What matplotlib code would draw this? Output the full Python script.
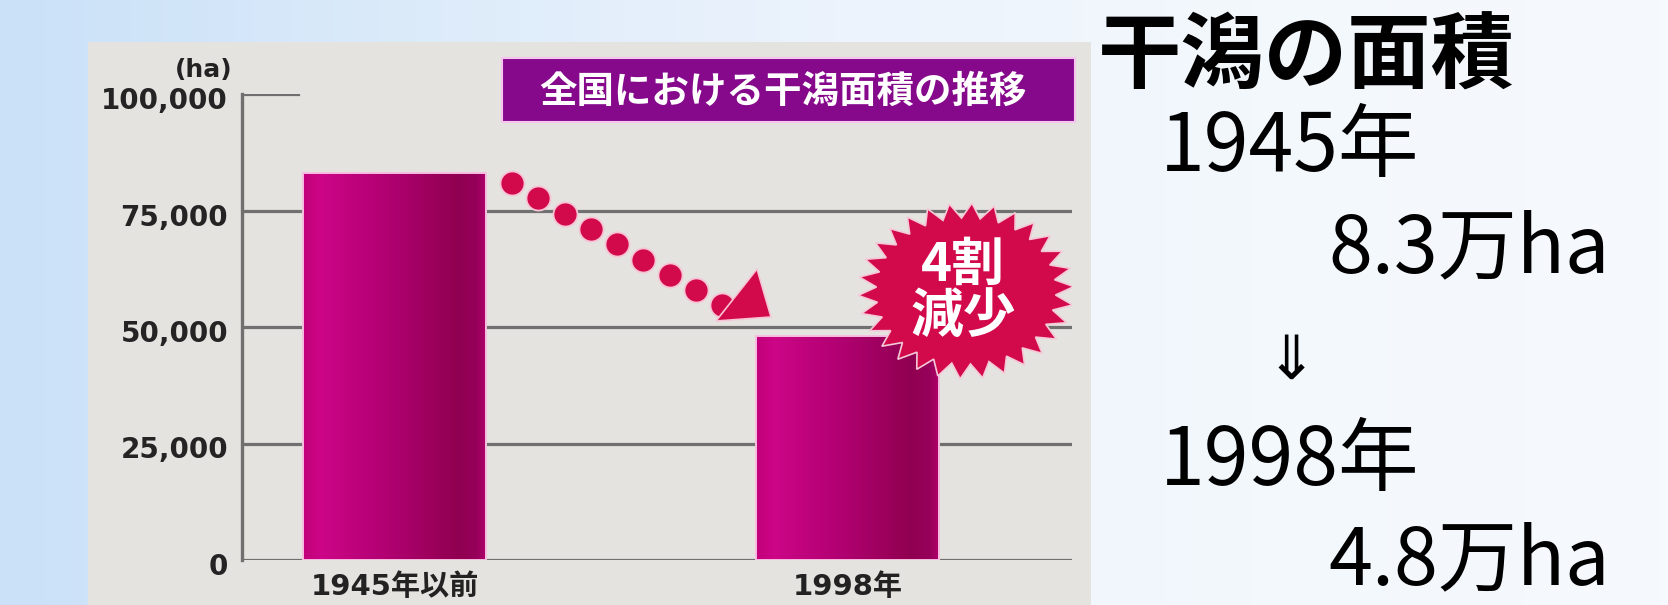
import numpy as np
import matplotlib.pyplot as plt
from matplotlib.colors import LinearSegmentedColormap
from matplotlib.patches import Rectangle, Polygon
from matplotlib.transforms import ScaledTranslation

# tidal flat area in Japan (ha)
periods = ['1945年以前', '1998年']
area_ha = [83000, 48000]
yticks = [0, 25000, 50000, 75000, 100000]
ytick_labels = ['0', '25,000', '50,000', '75,000', '100,000']
chart_title = '全国における干潟面積の推移'
badge_text = '4割\n減少'

summary_title = '干潟の面積'
summary_years = ['1945年', '1998年']
summary_values = ['8.3万ha', '4.8万ha']

JP = 'Noto Sans CJK JP'
W, H = 1668, 605

fig = plt.figure(figsize=(W / 100, H / 100), dpi=100)

# full-page axes in pixel units for the slide background and side text
bg = fig.add_axes([0, 0, 1, 1])
bg.set_xlim(0, W)
bg.set_ylim(H, 0)
bg.axis('off')

page = LinearSegmentedColormap.from_list(
    'page', ['#cae1f8', '#dcebfa', '#ecf3fc', '#f3f8fd', '#f6f9fe'])
bg.imshow(np.linspace(0, 1, 512)[None, :], cmap=page, extent=[0, W, H, 0],
          aspect='auto', zorder=0)

# grey chart panel and purple title box
bg.add_patch(Rectangle((88, 42), 1003, 580, fc='#e5e3df', ec='none', zorder=1))
bg.add_patch(Rectangle((502, 58), 573, 64, fc='#86098c', ec='#f4c6ee', lw=1.5, zorder=2))
bg.text(783, 91, chart_title, color='white', fontsize=27, weight='bold',
        family=JP, ha='center', va='center', zorder=3)
bg.text(233, 70, '(ha)', color='#222222', fontsize=18, weight='bold',
        family='DejaVu Sans', ha='right', va='center', zorder=3)

# summary text on the right
bg.text(1098, 58, summary_title, fontsize=60, weight='bold', family=JP,
        ha='left', va='center', color='black')
bg.text(1160, 148, summary_years[0], fontsize=58, family=JP, ha='left', va='center')
bg.text(1328, 250, summary_values[0], fontsize=57, family=JP, ha='left', va='center')
bg.text(1291, 362, '⇓', fontsize=44, family=[JP, 'DejaVu Sans'], ha='center', va='center')
bg.text(1160, 462, summary_years[1], fontsize=58, family=JP, ha='left', va='center')
bg.text(1328, 562, summary_values[1], fontsize=57, family=JP, ha='left', va='center')

# bar chart axes
ax_l, ax_r, ax_b, ax_t = 242, 1072, 560, 94
ax = fig.add_axes([ax_l / W, (H - ax_b) / H, (ax_r - ax_l) / W, (ax_b - ax_t) / H])
ax.patch.set_visible(False)

x = np.arange(len(periods))
unit = 453.0  # pixels between bar centres
x0 = 394.5
xlim = ((ax_l - x0) / unit, (ax_r - x0) / unit)
bar_w = 183 / unit

grid_c = '#707070'
for t in yticks[:-1]:
    ax.axhline(t, color=grid_c, lw=2.3, zorder=1)
ax.axhline(yticks[-1], xmin=0, xmax=0.068, color=grid_c, lw=2.3, zorder=1)

bars = ax.bar(x, area_ha, width=bar_w, color='none', edgecolor='#f6bfe0',
              lw=1.4, zorder=3)
bar_cmap = LinearSegmentedColormap.from_list(
    'bar', [(0, '#c2007a'), (0.1, '#cc0687'), (0.45, '#b20072'),
            (0.85, '#900050'), (0.95, '#96005a'), (1.0, '#b0006a')])
for b in bars:
    im = ax.imshow(np.linspace(0, 1, 256)[None, :], cmap=bar_cmap,
                   extent=[b.get_x(), b.get_x() + b.get_width(), 0, b.get_height()],
                   aspect='auto', zorder=2.5, interpolation='bilinear')
    im.set_clip_path(b)

ax.set_xlim(*xlim)
ax.set_ylim(0, 100000)

for side in ['top', 'right', 'bottom']:
    ax.spines[side].set_visible(False)
ax.spines['left'].set_color(grid_c)
ax.spines['left'].set_linewidth(2.4)

ax.set_yticks(yticks, ytick_labels)
ax.tick_params(axis='y', length=0, pad=10, labelsize=20, labelcolor='#242424')
for lab in ax.get_yticklabels():
    lab.set_fontweight('bold')
    lab.set_transform(lab.get_transform() + ScaledTranslation(0, -4 / 100, fig.dpi_scale_trans))

ax.set_xticks(x, periods)
ax.tick_params(axis='x', length=0, pad=9, labelsize=21, labelcolor='#222222')
for lab in ax.get_xticklabels():
    lab.set_family(['DejaVu Sans', JP])
    lab.set_fontweight('bold')

# dotted arrow running down from the first bar to the second
red = '#d20a4c'
y_px = (ax_b - ax_t) / 100000  # pixels per hectare
start = (bars[0].get_x() + bar_w + 26 / unit, area_ha[0] - 10 / y_px)
end = (bars[1].get_x() - 34 / unit, area_ha[1] + 31 / y_px)
dots_x = np.linspace(start[0], end[0], 9)
dots_y = np.linspace(start[1], end[1], 9)
ax.scatter(dots_x, dots_y, s=300, color=red, edgecolor='#f7c4d6', lw=1.3, zorder=4)
head = np.array([[716, 321], [757, 269], [771, 317]], dtype=float)
head_xy = np.column_stack([(head[:, 0] - x0) / unit, (ax_b - head[:, 1]) / y_px])
ax.add_patch(Polygon(head_xy, closed=True, fc=red, ec='#f7c4d6', lw=1.2, zorder=4))

# starburst badge beside the 1998 bar
n = 30
ang = np.linspace(0, 2 * np.pi, 2 * n, endpoint=False) + 0.05
r = np.where(np.arange(2 * n) % 2 == 0, 1.0, 0.83)
cx, cy = (966 - x0) / unit, (ax_b - 291) / y_px
rx, ry = 108 / unit, 88 / y_px
star = np.column_stack([cx + rx * r * np.cos(ang), cy + ry * r * np.sin(ang)])
ax.add_patch(Polygon(star, closed=True, fc=red, ec='#f5c8d8', lw=1.2, zorder=5))
ax.text(cx - 3 / unit, cy, badge_text, color='white', fontsize=38, weight='bold',
        family=JP, ha='center', va='center', linespacing=0.95, zorder=6)

fig.savefig('out.png', dpi=100)
